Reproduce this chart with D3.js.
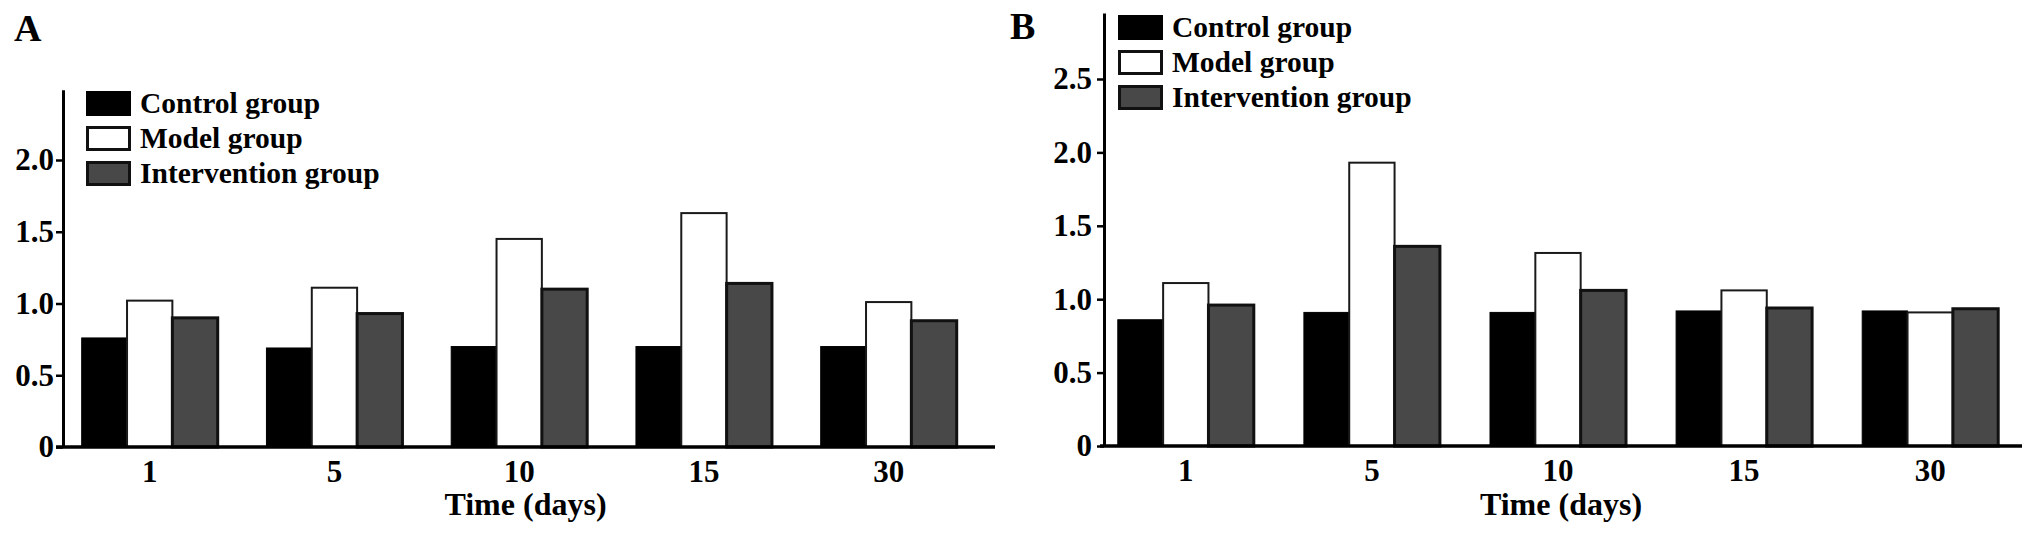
<!DOCTYPE html>
<html><head><meta charset="utf-8">
<script src="https://cdn.jsdelivr.net/npm/d3@7"></script>
<style>
html,body{margin:0;padding:0;background:#fff;}
svg{display:block;}
text{font-family:"Liberation Serif","Times New Roman",serif;font-weight:bold;fill:#000;}
</style>
</head><body>
<svg id="c" width="2031" height="536"></svg>
<script>
// ---- data ----
const days = ["1", "5", "10", "15", "30"];
const seriesNames = ["Control group", "Model group", "Intervention group"];
const xTitle = "Time (days)";
const yTicksA = [0, 0.5, 1.0, 1.5, 2.0];
const yTicksB = [0, 0.5, 1.0, 1.5, 2.0, 2.5];
const controlA      = [0.76, 0.69, 0.70, 0.70, 0.70];
const modelA        = [1.02, 1.11, 1.45, 1.63, 1.01];
const interventionA = [0.90, 0.93, 1.10, 1.14, 0.88];
const controlB      = [0.86, 0.91, 0.91, 0.92, 0.92];
const modelB        = [1.11, 1.93, 1.315, 1.06, 0.91];
const interventionB = [0.96, 1.36, 1.06, 0.94, 0.935];

// ---- styles ----
const fills   = ["#000000", "#ffffff", "#484848"];
const strokes = ["#000000", "#1a1a1a", "#111111"];
const swidths = [1, 2, 3];

const svg = d3.select("#c");
const fmt = d => d === 0 ? "0" : d3.format(".1f")(d);

function panel(cfg, series, ticks) {
  const g = svg.append("g");
  const y = d3.scaleLinear().domain([0, cfg.yMax])
    .range([cfg.baseY, cfg.baseY - cfg.yMax * cfg.pxPerUnit]);
  const pIn = 1 - cfg.bandW / cfg.step;
  const x0 = d3.scaleBand().domain(days)
    .range([cfg.groupStart, cfg.groupStart + cfg.step * (days.length - pIn)])
    .paddingInner(pIn).paddingOuter(0);
  const x1 = d3.scaleBand().domain(d3.range(series.length))
    .range([0, x0.bandwidth()]).padding(0);

  // bars
  const groups = g.selectAll("g.grp").data(days).join("g")
    .attr("transform", d => `translate(${x0(d)},0)`);
  groups.selectAll("rect").data((d, i) => series.map((s, k) => ({k, v: s[i]})))
    .join("rect")
    .attr("x", d => x1(d.k))
    .attr("y", d => y(d.v))
    .attr("width", x1.bandwidth())
    .attr("height", d => y(0) - y(d.v))
    .attr("fill", d => fills[d.k])
    .attr("stroke", d => strokes[d.k])
    .attr("stroke-width", d => swidths[d.k]);

  // y axis
  const ya = g.append("g").attr("transform", `translate(${cfg.yAxisX},0)`)
    .call(d3.axisLeft(y).tickValues(ticks).tickFormat(fmt)
      .tickSize(7).tickSizeOuter(0).tickPadding(cfg.tickPad));
  ya.select(".domain").attr("stroke", "#000").attr("stroke-width", 3);
  ya.selectAll(".tick line").attr("stroke", "#000").attr("stroke-width", 2.5);
  ya.selectAll(".tick text").style("font-size", "31px")
    .style("font-family", '"Liberation Serif","Times New Roman",serif')
    .style("font-weight", "bold").attr("fill", "#000");

  // x axis line
  g.append("line").attr("x1", cfg.xAxisStart).attr("x2", cfg.xAxisEnd)
    .attr("y1", y(0)).attr("y2", y(0))
    .attr("stroke", "#000").attr("stroke-width", 3.5);
  const xa = g.append("g").attr("transform", `translate(0,${y(0)})`)
    .call(d3.axisBottom(x0).tickSize(0).tickPadding(13));
  xa.select(".domain").remove();
  xa.selectAll(".tick text").style("font-size", "31px")
    .style("font-family", '"Liberation Serif","Times New Roman",serif')
    .style("font-weight", "bold").attr("fill", "#000");

  // axis title
  g.append("text").attr("x", (cfg.xAxisStart + cfg.xAxisEnd) / 2).attr("y", cfg.titleY)
    .attr("text-anchor", "middle").style("font-size", "32px").text(xTitle);

  // panel letter
  g.append("text").attr("x", cfg.letterX).attr("y", cfg.letterY)
    .style("font-size", "38px").text(cfg.letter);

  // legend
  const lg = g.append("g").attr("transform", `translate(${cfg.legendX},${cfg.legendY})`);
  const items = lg.selectAll("g").data(seriesNames).join("g")
    .attr("transform", (d, i) => `translate(0,${i * 35})`);
  items.append("rect").attr("x", 1.5).attr("y", 1.5).attr("width", 42).attr("height", 22)
    .attr("fill", (d, i) => fills[i]).attr("stroke", (d, i) => i === 0 ? "#000" : "#111")
    .attr("stroke-width", (d, i) => i === 0 ? 3 : 3);
  items.append("text").attr("x", 54).attr("y", 22)
    .style("font-size", "29.5px").text(d => d);
}

panel({letter: "A", letterX: 14, letterY: 41, yAxisX: 63, xAxisStart: 56, xAxisEnd: 995,
       baseY: 447, pxPerUnit: 143.5, yMax: 2.49, groupStart: 81.7, step: 184.75, bandW: 136,
       legendX: 86, legendY: 91, tickPad: 2, titleY: 515},
      [controlA, modelA, interventionA], yTicksA);

panel({letter: "B", letterX: 1010, letterY: 39, yAxisX: 1104, xAxisStart: 1100, xAxisEnd: 2022,
       baseY: 446, pxPerUnit: 146.8, yMax: 2.95, groupStart: 1117.8, step: 186.1, bandW: 136,
       legendX: 1118, legendY: 15, tickPad: 5, titleY: 515},
      [controlB, modelB, interventionB], yTicksB);
</script>
</body></html>
